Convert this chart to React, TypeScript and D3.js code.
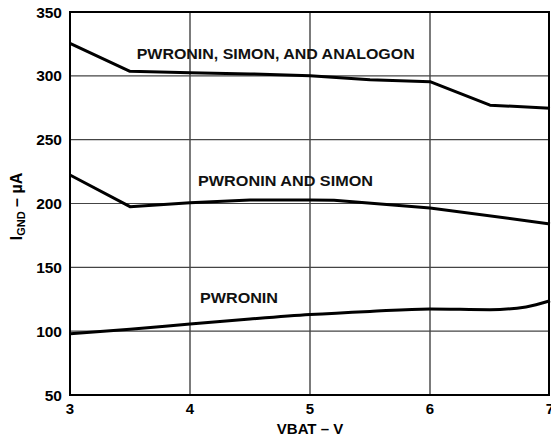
import * as d3 from "d3";

const WIDTH = 551;
const HEIGHT = 443;
const MARGIN = { top: 12, right: 2, bottom: 48, left: 70 };

const xTicks = [3, 4, 5, 6, 7];
const yTicks = [50, 100, 150, 200, 250, 300, 350];

const vbatAll = [3, 3.5, 4, 4.5, 5, 5.5, 6, 6.5, 7];
const allOn = [325.5, 303.5, 302.5, 301.5, 300, 297, 295.4, 277, 274.6];

const vbatMid = [3, 3.5, 4, 4.5, 5, 5.2, 6, 7];
const pwrSimon = [222.3, 197.5, 200.5, 202.7, 202.7, 202.5, 196.5, 184];

const vbatLow = [3, 3.5, 4, 4.5, 5, 5.5, 6, 6.5, 6.8, 7];
const pwrOnly = [98, 101.5, 105.6, 109.5, 113, 115.5, 117.4, 116.8, 119, 123.8];

const labels = [
  { text: "PWRONIN, SIMON, AND ANALOGON", x: 136.7, y: 59, w: 278 },
  { text: "PWRONIN AND SIMON", x: 198, y: 186, w: 175 },
  { text: "PWRONIN", x: 200, y: 303, w: 78 },
];

const FONT = "'Liberation Sans', Arial, Helvetica, sans-serif";

export default function App() {
  const boundsHeight = HEIGHT - MARGIN.top - MARGIN.bottom;

  const xScale = d3.scaleLinear().domain([3, 7]).range([MARGIN.left, MARGIN.left + 480]);
  const yScale = d3.scaleLinear().domain([50, 350]).range([MARGIN.top + boundsHeight, MARGIN.top]);

  const linear = d3
    .line<[number, number]>()
    .x((d) => xScale(d[0]))
    .y((d) => yScale(d[1]));
  const smooth = d3
    .line<[number, number]>()
    .x((d) => xScale(d[0]))
    .y((d) => yScale(d[1]))
    .curve(d3.curveMonotoneX);

  const series = [
    linear(vbatAll.map((v, i) => [v, allOn[i]])),
    linear(vbatMid.map((v, i) => [v, pwrSimon[i]])),
    smooth(vbatLow.map((v, i) => [v, pwrOnly[i]])),
  ];

  const x0 = xScale(3);
  const x1 = xScale(7);
  const y0 = yScale(50);
  const y1 = yScale(350);

  return (
    <svg
      width={WIDTH}
      height={HEIGHT}
      style={{ position: "absolute", left: 0, top: 0, background: "#fff" }}
      fontFamily={FONT}
    >
      {/* grid */}
      {xTicks.slice(1, -1).map((t) => (
        <line key={"gx" + t} x1={xScale(t)} x2={xScale(t)} y1={y1} y2={y0} stroke="#222" strokeWidth={1.2} />
      ))}
      {yTicks.slice(1, -1).map((t) => (
        <line key={"gy" + t} x1={x0} x2={x1} y1={yScale(t)} y2={yScale(t)} stroke="#444" strokeWidth={1.2} />
      ))}

      {/* frame */}
      <rect x={x0} y={y1} width={x1 - x0 - 1} height={y0 - y1} fill="none" stroke="#000" strokeWidth={2} />

      {/* curves */}
      {series.map((d, i) => (
        <path key={i} d={d ?? ""} fill="none" stroke="#000" strokeWidth={3} strokeLinejoin="round" />
      ))}

      {/* curve labels */}
      {labels.map((l) => (
        <text
          key={l.text}
          x={l.x}
          y={l.y}
          fontSize={14.5}
          fontWeight="bold"
          textLength={l.w}
          lengthAdjust="spacingAndGlyphs"
          fill="#111"
        >
          {l.text}
        </text>
      ))}

      {/* y tick labels */}
      {yTicks.map((t) => (
        <text key={"ty" + t} x={x0 - 8} y={yScale(t)} dy="0.36em" textAnchor="end" fontSize={15.5} fontWeight="bold">
          {t}
        </text>
      ))}

      {/* x tick labels */}
      {xTicks.map((t) => (
        <text key={"tx" + t} x={xScale(t)} y={y0 + 19} textAnchor="middle" fontSize={15} fontWeight="bold">
          {t}
        </text>
      ))}

      <text x={xScale(5)} y={434} textAnchor="middle" fontSize={15} fontWeight="bold">
        VBAT – V
      </text>

      <text
        transform={`translate(22, ${(y0 + y1) / 2 + 3}) rotate(-90)`}
        textAnchor="middle"
        fontSize={16}
        fontWeight="bold"
      >
        I<tspan fontSize={11} dy={3}>GND</tspan>
        <tspan dy={-3}> – µA</tspan>
      </text>
    </svg>
  );
}
